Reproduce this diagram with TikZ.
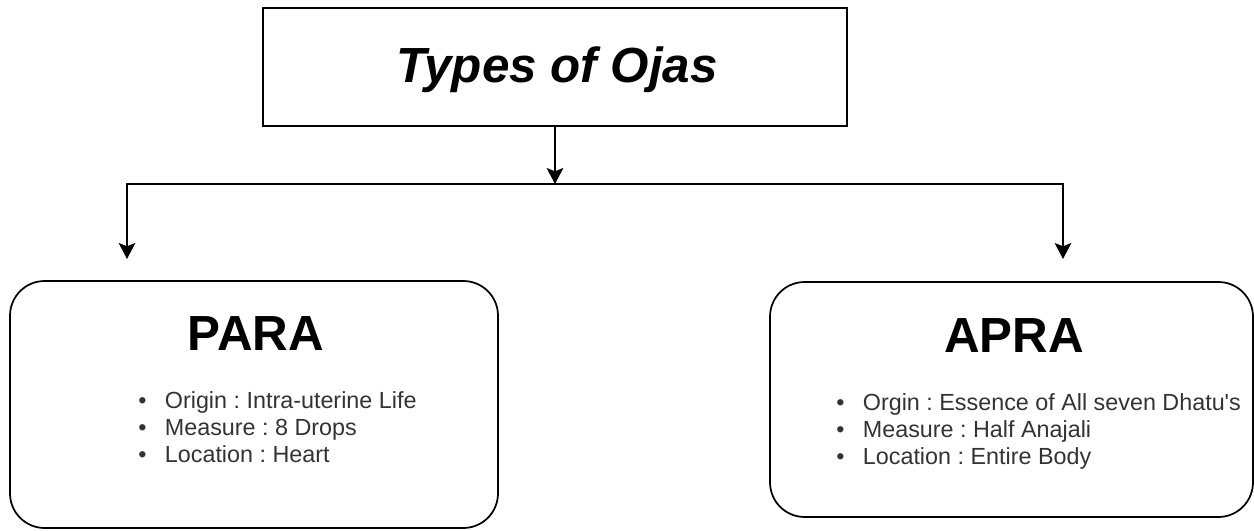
\documentclass[tikz,border=0pt]{standalone}
\usepackage{fontspec}
\setmainfont{Liberation Sans}
\usetikzlibrary{arrows.meta}
\frenchspacing
\def\bul{\makebox[20pt][l]{\textbullet}}
\tikzset{
	box/.style={draw, line width=1.3pt, inner sep=0pt},
	arr/.style={line width=1.3pt, -{Stealth[length=12pt,width=12.5pt,inset=2.5pt]}},
	head/.style={font=\fontsize{37pt}{40pt}\selectfont\bfseries, anchor=base},
	items/.style={font=\fontsize{17.5pt}{20.25pt}\selectfont, text=black!80, align=left, anchor=north west, inner sep=0pt}
}

\begin{document}
\begin{tikzpicture}[x=0.75pt, y=-0.75pt]
			%%%%% START %%%%%
			\useasboundingbox (0,0) rectangle (1254,531);
			
			\node[box, minimum width=438pt, minimum height=88.5pt] (title) at (555,67) {};
			\node[head] (titletext) at (557,83) {\itshape Types of Ojas};
			
			\coordinate (split) at (555,184);
			\coordinate (paratip) at (127,259);
			\coordinate (apratip) at (1063,259);
			
			\draw[arr] (title) -- (split);
			\draw[arr] (split) -| (paratip);
			\draw[arr] (split) -| (apratip);
			
			\node[box, rounded corners=26pt, minimum width=366pt, minimum height=185.25pt] (para) at (254,404.5) {};
			\node[head] (parahead) at (256,350) {PARA};
			\node[items] (paralist) at (138,391) {\bul Origin : Intra-uterine Life\\ \bul Measure : 8 Drops\\ \bul Location : Heart};
			
			\node[box, rounded corners=26pt, minimum width=362.25pt, minimum height=176.25pt] (apra) at (1011.5,399.5) {};
			\node[head] (aprahead) at (1014,352) {APRA};
			\node[items] (apralist) at (836,393) {\bul Orgin : Essence of All seven Dhatu\textquotesingle s\\ \bul Measure : Half Anajali\\ \bul Location : Entire Body};
			
			%%%%% END %%%%%
\end{tikzpicture}
\end{document}
